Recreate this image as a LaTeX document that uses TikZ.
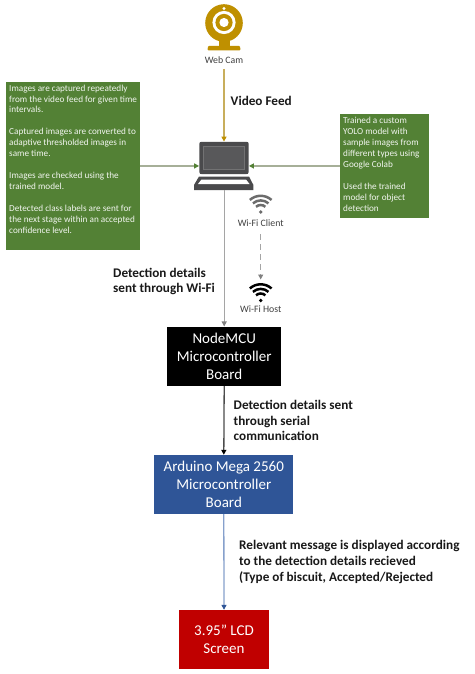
\documentclass[tikz,border=0pt]{standalone}
\usepackage{fontspec}
\setmainfont{Carlito}
\usetikzlibrary{arrows.meta,positioning}
\definecolor{gold}{HTML}{BF9000}
\definecolor{goldline}{HTML}{C8AE5C}
\definecolor{grn}{HTML}{538135}
\definecolor{grnline}{HTML}{A6AF98}
\definecolor{gry}{HTML}{A5A5A5}
\definecolor{dk}{HTML}{4A4A4C}
\definecolor{blu}{HTML}{2F5597}
\definecolor{bluline}{HTML}{86A0CC}
\definecolor{rd}{HTML}{C00000}
\tikzset{
  x=1pt,y=-1pt,
  notebox/.style={fill=grn,draw=none,anchor=north west,inner sep=0pt},
  notetxt/.style={anchor=north west,inner sep=0pt,text=white,align=left,font=\fontsize{9.2}{10.95}\selectfont,text opacity=.92},
  board/.style={draw=none,text=white,align=center,inner sep=0pt,font=\fontsize{15}{18}\selectfont},
  lbl/.style={align=left,anchor=west,inner sep=0pt,font=\fontsize{13.2}{15.8}\selectfont\bfseries,text=black!90},
  captxt/.style={inner sep=0pt,text=black!75,font=\fontsize{9.8}{11}\selectfont},
  conn/.style={line width=1.3pt},
  tipc/.style={-{Triangle[length=5pt,width=5pt,color=#1]}},
  area/.style={inner sep=0pt,draw=none}
}
\newcommand{\wifisym}[3]{% x, y of dot, colour
  \fill[#3] (#1,#2) circle[radius=1.9pt];
  \foreach \r in {7,11.6,16.2}{
    \draw[#3,line width=2.5pt] (#1,#2) ++(48:\r pt) arc[start angle=48,end angle=132,radius=\r pt];
  }
}
\begin{document}
\begin{tikzpicture}
\useasboundingbox (0,0) rectangle (474,674);
\fill[white] (0,0) rectangle (474,674);
% webcam
\fill[gold] (224,23) circle[radius=18.8pt];
\fill[white] (224,22.5) circle[radius=11.6pt];
\fill[gold] (224,22.5) circle[radius=8.6pt];
\fill[white] (224,22.5) circle[radius=4.6pt];
\fill[white] (224,8.5) circle[radius=1.6pt];
\fill[gold] (218.5,40) rectangle (229.5,46);
\fill[gold,rounded corners=1pt] (208,46) -- (240,46) -- (240.5,50.5) -- (207.5,50.5) -- cycle;
\node[captxt] (camtext) at (224,60.5) {Web Cam};
% laptop
\fill[dk,rounded corners=2pt] (199.3,141.8) rectangle (248.7,174);
\fill[dk] (200,168) rectangle (248,174);
\draw[gray!75!dk,line width=.7pt,fill=dk!92!white] (203.5,146) rectangle (244.5,169);
\fill[dk] (199,176.5) -- (249,176.5) -- (253.4,185) -- (253.4,190) -- (194,190) -- (194,185) -- cycle;
\fill[white] (201.5,179.5) -- (246,179.5) -- (249.5,184) -- (198,184) -- cycle;
\node[area,minimum width=49.4pt,minimum height=32.2pt] (screen) at (224,157.9) {};
\node[area,minimum width=59.4pt,minimum height=48.2pt] (laptop) at (223.7,165.9) {};
% notes
\node[notebox,minimum width=134pt,minimum height=168.5pt] (leftnote) at (5.5,81.5) {};
\node[notetxt] (lefttext) at (9,84.5) {Images are captured repeatedly\\from the video feed for given time\\intervals.\\[10.95pt]Captured images are converted to\\adaptive thresholded images in\\same time.\\[10.95pt]Images are checked using the\\trained model.\\[10.95pt]Detected class labels are sent for\\the next stage within an accepted\\confidence level.};
\node[notebox,minimum width=89.3pt,minimum height=104.5pt] (rightnote) at (339.7,113.5) {};
\node[notetxt] (righttext) at (343,117) {Trained a custom\\YOLO model with\\sample images from\\different types using\\Google Colab\\[10.95pt]Used the trained\\model for object\\detection};
% wifi
\wifisym{260.7}{212}{gray!85!black}
\node[captxt] (client) at (260.7,223) {Wi-Fi Client};
\wifisym{260.7}{300.5}{black}
\node[captxt] (host) at (260.7,309) {Wi-Fi Host};
% boards
\node[board,fill=black,minimum width=114.3pt,minimum height=59.3pt] (mcu) at (224.2,356.3) {NodeMCU\\Microcontroller\\Board};
\node[board,fill=blu,minimum width=139pt,minimum height=59pt] (mega) at (223.8,484.5) {Arduino Mega 2560\\Microcontroller\\Board};
\node[board,fill=rd,minimum width=89.4pt,minimum height=59pt] (lcd) at (224,639.5) {3.95\symbol{34} LCD\\Screen};
% labels
\node[lbl] (vf) at (230.5,100.5) {Video Feed};
\node[lbl] (dw) at (113,281.5) {Detection details\\sent through Wi-Fi};
\node[lbl] (ds) at (233.5,420.5) {Detection details sent\\through serial\\communication};
\node[lbl] (rm) at (239,562) {Relevant message is displayed according\\to the detection details recieved\\(Type of biscuit, Accepted/Rejected};
% connectors
\coordinate (camlow) at (224,69);
\coordinate (hostup) at (260.7,279.5);
\coordinate (clientlow) at (260.7,234);
\draw[conn,goldline,tipc=gold] (camlow) -- (screen.north);
\draw[conn,grnline,tipc=grn] (leftnote.east) -- (leftnote.east -| screen.west);
\draw[conn,grnline,tipc=grn] (rightnote.west) -- (rightnote.west -| screen.east);
\draw[conn,gry,tipc=gray] (laptop.south -| mcu.north) -- (mcu.north);
\draw[conn,black!70,tipc=black] (mcu.south) -- (mega.north);
\draw[conn,bluline,tipc=blu] (mega.south) -- (lcd.north);
\draw[line width=1pt,gry,dash pattern=on 6pt off 4pt,tipc=gray] (clientlow) -- (hostup);
\end{tikzpicture}
\end{document}
